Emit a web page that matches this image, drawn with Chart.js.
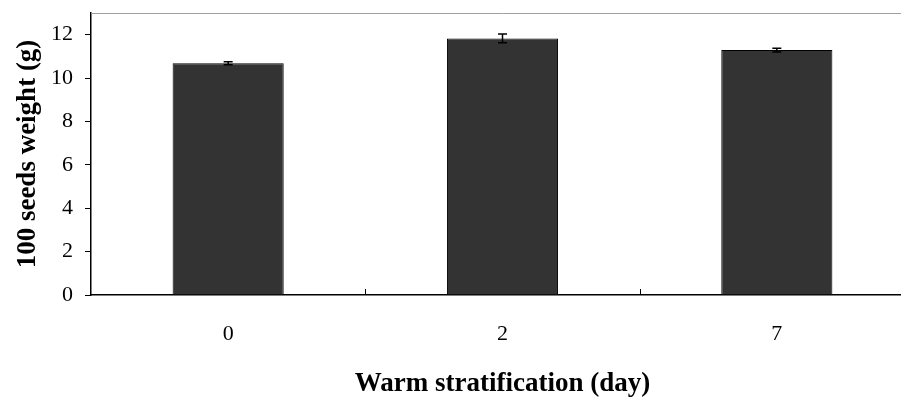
<!DOCTYPE html>
<html>
<head>
<meta charset="utf-8">
<script src="https://cdn.jsdelivr.net/npm/chart.js@4.4.1/dist/chart.umd.min.js"></script>
<style>
  html, body { margin: 0; padding: 0; background: #fff; overflow: hidden; }
  #wrap { width: 914px; height: 397px; }
</style>
</head>
<body>
<div id="wrap"><canvas id="seedChart"></canvas></div>
<script>
// data
const categories = ["0", "2", "7"];
const seedWeight = [10.68, 11.83, 11.29];
const seedError = [0.07, 0.2, 0.09];
const yTicks = [0, 2, 4, 6, 8, 10, 12];

// error bars + inner x ticks + grey top frame
const extrasPlugin = {
  id: "extras",
  afterDatasetsDraw(chart) {
    const ctx = chart.ctx;
    const x = chart.scales.x;
    const y = chart.scales.y;
    const area = chart.chartArea;
    const meta = chart.getDatasetMeta(0);

    ctx.save();
    // top frame line
    ctx.strokeStyle = "#a0a0a0";
    ctx.lineWidth = 1;
    ctx.beginPath();
    ctx.moveTo(area.left, area.top + 0.5);
    ctx.lineTo(area.right, area.top + 0.5);
    ctx.stroke();

    // ticks between categories, pointing up
    ctx.strokeStyle = "#000";
    for (let i = 0; i < categories.length - 1; i++) {
      const px = Math.round((x.getPixelForValue(i) + x.getPixelForValue(i + 1)) / 2) + 0.5;
      ctx.beginPath();
      ctx.moveTo(px, area.bottom);
      ctx.lineTo(px, area.bottom - 6);
      ctx.stroke();
    }

    // error bars
    ctx.lineWidth = 1.5;
    meta.data.forEach((bar, i) => {
      const top = y.getPixelForValue(seedWeight[i] + seedError[i]);
      const bot = y.getPixelForValue(seedWeight[i] - seedError[i]);
      ctx.beginPath();
      ctx.moveTo(bar.x, top);
      ctx.lineTo(bar.x, bot);
      ctx.moveTo(bar.x - 4.5, top);
      ctx.lineTo(bar.x + 4.5, top);
      ctx.moveTo(bar.x - 4.5, bot);
      ctx.lineTo(bar.x + 4.5, bot);
      ctx.stroke();
    });
    ctx.restore();
  }
};

const ctx = document.getElementById("seedChart").getContext("2d");
new Chart(ctx, {
  type: "bar",
  data: {
    labels: categories,
    datasets: [{
      data: seedWeight,
      backgroundColor: "#333333",
      borderColor: "#000",
      borderWidth: 1,
      barPercentage: 1,
      categoryPercentage: 0.405
    }]
  },
  options: {
    responsive: true,
    maintainAspectRatio: false,
    animation: false,
    events: [],
    layout: { padding: { top: 13, right: 0, left: 0, bottom: 0 } },
    plugins: {
      legend: { display: false },
      tooltip: { enabled: false }
    },
    scales: {
      x: {
        grid: { display: false },
        border: { display: true, color: "#000", width: 1.5 },
        ticks: {
          color: "#000",
          padding: 18,
          font: { family: "Liberation Serif", size: 22 }
        },
        title: {
          display: true,
          text: "Warm stratification (day)",
          color: "#000",
          padding: { top: 14, bottom: -3 },
          font: { family: "Liberation Serif", size: 27, weight: "bold" }
        },
        afterFit(scale) { scale.height = 102; }
      },
      y: {
        min: 0,
        max: 13,
        afterBuildTicks(scale) {
          scale.ticks = yTicks.map(v => ({ value: v }));
        },
        grid: {
          drawOnChartArea: false,
          drawTicks: true,
          tickLength: 6,
          color: "#000"
        },
        border: { display: true, color: "#000", width: 1.5 },
        ticks: {
          color: "#000",
          padding: 12,
          font: { family: "Liberation Serif", size: 22 }
        },
        title: {
          display: true,
          text: "100 seeds weight (g)",
          color: "#000",
          padding: { top: 12, bottom: 10 },
          font: { family: "Liberation Serif", size: 27, weight: "bold" }
        },
        afterFit(scale) {
          scale.width = 91;
          scale.paddingTop = 0;
          scale.paddingBottom = 0;
        }
      }
    }
  },
  plugins: [extrasPlugin]
});
</script>
</body>
</html>
